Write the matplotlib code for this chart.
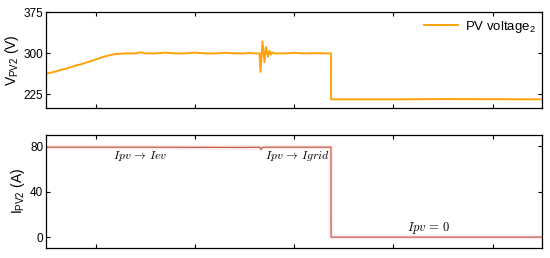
import numpy as np
import matplotlib
matplotlib.use("Agg")
import matplotlib.pyplot as plt

plt.rcParams['font.family'] = ['Liberation Sans', 'DejaVu Sans']
plt.rcParams['mathtext.fontset'] = 'custom'
plt.rcParams['mathtext.rm'] = 'Liberation Sans'
plt.rcParams['mathtext.it'] = 'Liberation Sans:italic'

# PV voltage (V)
t_v = [0.00, 0.05, 0.10, 0.15, 0.20, 0.25, 0.30, 0.35, 0.40, 0.45, 0.50, 0.55,
       0.60, 0.65, 0.70, 0.80, 0.90, 0.95, 1.00, 1.10, 1.20, 1.30, 1.40, 1.50,
       1.60, 1.70, 1.80, 1.90, 2.00, 2.05, 2.10, 2.15, 2.16, 2.18, 2.20,
       2.215, 2.235, 2.25, 2.265, 2.28, 2.30, 2.40, 2.50, 2.60, 2.70,
       2.87, 2.871, 3.50, 4.00, 5.00]
v_pv = [263, 265, 267, 270, 272, 275, 278, 280, 283, 286, 289, 292,
        295, 297, 299, 300, 300, 302, 300, 300, 301.5, 300, 300, 301.5,
        300, 300, 301, 300, 300, 301, 300, 300, 266, 322, 284,
        312, 294, 305, 298, 302, 300, 300, 301, 300, 300.5,
        300, 216, 216, 216.5, 216]

# PV current (A)
t_i = [0.00, 1.00, 2.00, 2.15, 2.165, 2.175, 2.19, 2.50, 2.87, 2.871, 5.00]
i_pv = [79, 79, 78.8, 79, 77, 78.5, 79, 79, 79, 0, 0]

orange = '#ffa20a'
red = '#c65a45'

fig = plt.figure(figsize=(5.5, 2.58), dpi=100)
ax1 = fig.add_axes([0.084, 0.581, 0.902, 0.371])
ax2 = fig.add_axes([0.084, 0.039, 0.902, 0.439])

ax1.plot(t_v, v_pv, color=orange, lw=1.4, label=r'PV voltage$_2$')
ax1.set_xlim(0, 5)
ax1.set_ylim(200, 375)
ax1.set_yticks([225, 300, 375])
ax1.set_ylabel(r'V$_{\mathrm{PV2}}$ (V)', fontsize=10, labelpad=2)
ax1.legend(loc='upper right', frameon=False, fontsize=9.5, handlelength=2.6,
           borderaxespad=0.1, handletextpad=0.5)

ax2.plot(t_i, i_pv, color='#fdeef0', lw=3.5, solid_capstyle='butt')
ax2.plot(t_i, i_pv, color=red, lw=0.9)
ax2.set_xlim(0, 5)
ax2.set_ylim(-9.5, 90)
ax2.set_yticks([0, 40, 80])
ax2.set_ylabel(r'I$_{\mathrm{PV2}}$ (A)', fontsize=10, labelpad=2)

ax2.text(0.95, 71, r'$Ipv\,\rightarrow\,Iev$', fontsize=8.5, ha='center', va='center',
         math_fontfamily='cm')
ax2.text(2.86, 71, r'$Ipv\,\rightarrow\,Igrid$', fontsize=8.5, ha='right', va='center',
         math_fontfamily='cm')
ax2.text(3.85, 8, r'$Ipv\,=\,0$', fontsize=9, ha='center', va='center',
         math_fontfamily='cm')

for ax in (ax1, ax2):
    ax.set_xticks([0.5, 1.5, 2.5, 3.5, 4.5])
    ax.set_xticklabels([])
    ax.tick_params(direction='in', top=True, right=True, length=3, width=0.8,
                   labelsize=8.5, pad=2)
    for s in ax.spines.values():
        s.set_linewidth(0.9)

fig.savefig('out.png', dpi=100)
